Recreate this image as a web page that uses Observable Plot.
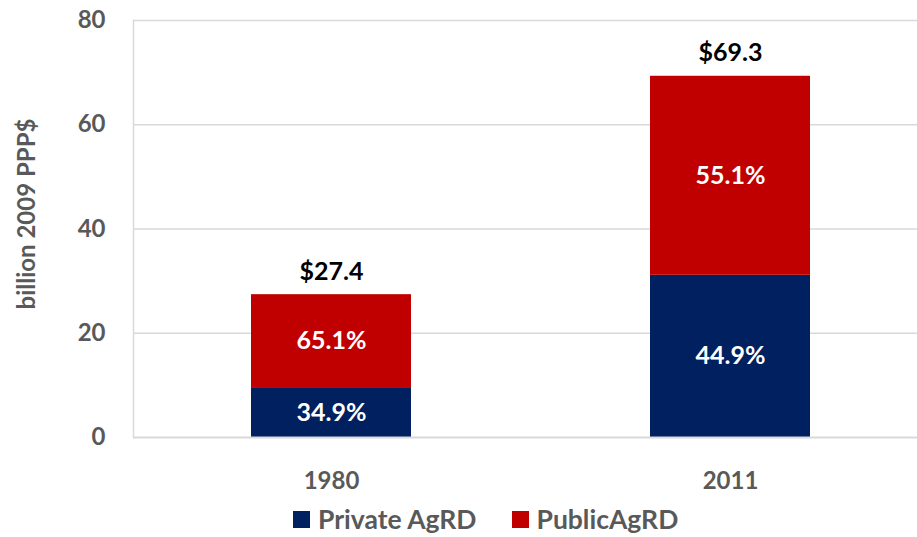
<!DOCTYPE html>
<html>
<head>
<meta charset="utf-8">
<script src="https://cdn.jsdelivr.net/npm/d3@7"></script>
<script src="https://cdn.jsdelivr.net/npm/@observablehq/plot@0.6"></script>
<style>
  html, body { margin: 0; padding: 0; background: #fff; overflow: hidden; }
  #chart { width: 917px; }
  .legend { position: absolute; left: 293px; top: 503px; display: flex; gap: 35px; font-family: Lato, "Open Sans", sans-serif; font-weight: bold; font-size: 26.5px; color: #595959; white-space: nowrap; }
  .legend span.item { display: flex; align-items: center; gap: 8px; }
  .legend span.sw { width: 17px; height: 17px; display: inline-block; }
</style>
</head>
<body>
<div id="chart"></div>
<script>
const years = ["1980", "2011"];
const totals = [27.4, 69.3];
const privateShare = [34.9, 44.9];
const publicShare = [65.1, 55.1];
const seriesNames = ["Private AgRD", "PublicAgRD"];
const seriesColors = ["#002060", "#C00000"];
const yTicks = [0, 20, 40, 60, 80];

const rows = [];
years.forEach((yr, i) => {
  rows.push({year: yr, series: seriesNames[0], value: totals[i] * privateShare[i] / 100, pct: privateShare[i]});
  rows.push({year: yr, series: seriesNames[1], value: totals[i] * publicShare[i] / 100, pct: publicShare[i]});
});
const totalRows = years.map((yr, i) => ({year: yr, total: totals[i]}));

const font = "Lato, 'Open Sans', sans-serif";

const chart = Plot.plot({
  width: 917,
  height: 500,
  marginTop: 20,
  marginBottom: 63,
  marginLeft: 133,
  marginRight: 0,
  style: {fontFamily: font, fontWeight: "bold", background: "#fff", overflow: "hidden"},
  x: {domain: years, range: [131, 929], paddingInner: 0.6, paddingOuter: 0.3, label: null},
  y: {domain: [0, 80], label: null},
  color: {domain: seriesNames, range: seriesColors},
  marks: [
    Plot.ruleY(yTicks.filter(d => d > 0), {stroke: "#d9d9d9", strokeWidth: 1.5}),
    Plot.frame({anchor: "left", stroke: "#d9d9d9", strokeWidth: 1.5}),
    Plot.barY(rows, {x: "year", y: "value", fill: "series", z: "series", order: seriesNames}),
    Plot.ruleY([0], {stroke: "#d9d9d9", strokeWidth: 2}),
    Plot.text(rows, Plot.stackY({x: "year", y: "value", z: "series", order: seriesNames, text: d => d.pct.toFixed(1) + "%", fill: "white", fontSize: 25, fontWeight: "bold"})),
    Plot.text(totalRows, {x: "year", y: "total", text: d => "$" + d.total.toFixed(1), dy: -23, fill: "black", fontSize: 25, fontWeight: "bold"}),
    Plot.axisY(yTicks, {tickSize: 0, tickPadding: 28, fontSize: 24, fill: "#595959", label: null}),
    Plot.axisX({tickSize: 0, tickPadding: 34, fontSize: 24, fill: "#595959", label: null}),
    Plot.text(["billion 2009 PPP$"], {frameAnchor: "left", textAnchor: "middle", dx: -106, dy: -15, rotate: -90, fontSize: 24, fill: "#595959", fontWeight: "bold"})
  ]
});
document.getElementById("chart").appendChild(chart);

const legend = document.createElement("div");
legend.className = "legend";
seriesNames.forEach((name, i) => {
  const item = document.createElement("span");
  item.className = "item";
  const sw = document.createElement("span");
  sw.className = "sw";
  sw.style.background = seriesColors[i];
  item.appendChild(sw);
  item.appendChild(document.createTextNode(name));
  legend.appendChild(item);
});
document.body.appendChild(legend);
</script>
</body>
</html>
